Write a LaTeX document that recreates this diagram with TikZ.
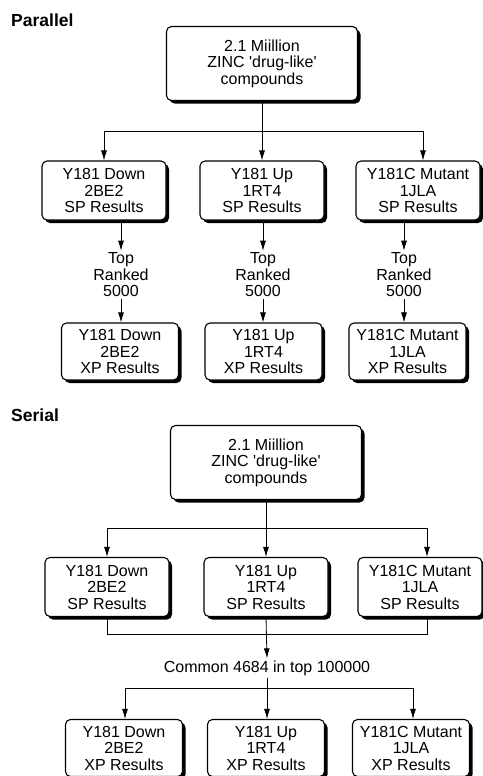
\documentclass[tikz,border=0pt]{standalone}
\usepackage{fontspec}
\setmainfont{Liberation Sans}[Ligatures=TeXOff]
\usetikzlibrary{arrows.meta,shadows}
\tikzset{
  box/.style={draw, line width=1.1pt, rounded corners=5pt, fill=white, align=center, inner sep=0pt,
    font=\fontsize{16}{16.5}\selectfont,
    drop shadow={shadow xshift=3pt, shadow yshift=-3pt, fill=black, opacity=1}},
  topbox/.style={box, minimum width=191pt, minimum height=74pt},
  spbox/.style={box, minimum width=124pt, minimum height=59pt},
  xpbox/.style={box, minimum width=117pt, minimum height=57pt},
  lbl/.style={align=center, inner sep=2pt, font=\fontsize{16}{16.5}\selectfont},
  ttl/.style={anchor=west, inner sep=0pt, font=\fontsize{17.5}{18}\selectfont\bfseries},
  arr/.style={line width=0.8pt, -{Latex[length=10pt,width=6pt]}},
  ln/.style={line width=0.8pt}
}
\begin{document}
\begin{tikzpicture}[x=1pt,y=-1pt]
\useasboundingbox (0,0) rectangle (482,776);

% Parallel
\node[ttl] (partitle) at (11,20) {Parallel};
\node[topbox] (ptop) at (262,63.5) {2.1 Miillion\\ZINC 'drug-like'\\compounds};
\node[spbox] (psp1) at (104,190.5) {Y181 Down\\2BE2\\SP Results};
\node[spbox] (psp2) at (262,190.5) {Y181 Up\\1RT4\\SP Results};
\node[spbox] (psp3) at (418,190.5) {Y181C Mutant\\1JLA\\SP Results};
\node[lbl] (prank1) at (121,275) {Top\\Ranked\\5000};
\node[lbl] (prank2) at (263,275) {Top\\Ranked\\5000};
\node[lbl] (prank3) at (404,275) {Top\\Ranked\\5000};
\node[xpbox] (pxp1) at (120,351.5) {Y181 Down\\2BE2\\XP Results};
\node[xpbox] (pxp2) at (263.5,351.5) {Y181 Up\\1RT4\\XP Results};
\node[xpbox] (pxp3) at (407.5,351.5) {Y181C Mutant\\1JLA\\XP Results};

\path (ptop.south) ++(0,30) coordinate (psplit);
\draw[arr] (ptop.south) -- (psp2.north);
\draw[arr] (psplit) -| (psp1.north);
\draw[arr] (psplit) -| ([xshift=5pt]psp3.north);
\foreach \i in {1,2,3} {
  \draw[arr] (psp\i.south -| prank\i) -- (prank\i.north);
  \draw[arr] (prank\i.south) -- (prank\i.south |- pxp\i.north);
}

% Serial
\node[ttl] (sertitle) at (11,415) {Serial};
\node[topbox] (stop) at (266,462.5) {2.1 Miillion\\ZINC 'drug-like'\\compounds};
\node[spbox] (ssp1) at (107,587) {Y181 Down\\2BE2\\SP Results};
\node[spbox] (ssp2) at (266,587) {Y181 Up\\1RT4\\SP Results};
\node[spbox] (ssp3) at (420,587) {Y181C Mutant\\1JLA\\SP Results};
\node[lbl] (scommon) at (267,668) {Common 4684 in top 100000};
\node[xpbox] (sxp1) at (124,748) {Y181 Down\\2BE2\\XP Results};
\node[xpbox] (sxp2) at (266,748) {Y181 Up\\1RT4\\XP Results};
\node[xpbox] (sxp3) at (411,748) {Y181C Mutant\\1JLA\\XP Results};

\path (stop.south) ++(0,28) coordinate (ssplit);
\draw[arr] (stop.south) -- (ssp2.north);
\draw[arr] (ssplit) -| (ssp1.north);
\draw[arr] (ssplit) -| ([xshift=7pt]ssp3.north);

\path (ssp2.south) ++(0,17) coordinate (smerge);
\draw[ln] (ssp1.south) |- (smerge) -| ([xshift=7pt]ssp3.south);
\draw[arr] (ssp2.south) -- (scommon.north);

\path (scommon.south) ++(0,11) coordinate (sfan);
\draw[arr] (scommon.south) -- (scommon.south |- sxp2.north);
\draw[arr] (sfan) -| ([xshift=1pt]sxp1.north);
\draw[arr] (sfan) -| ([xshift=2pt]sxp3.north);
\end{tikzpicture}
\end{document}
